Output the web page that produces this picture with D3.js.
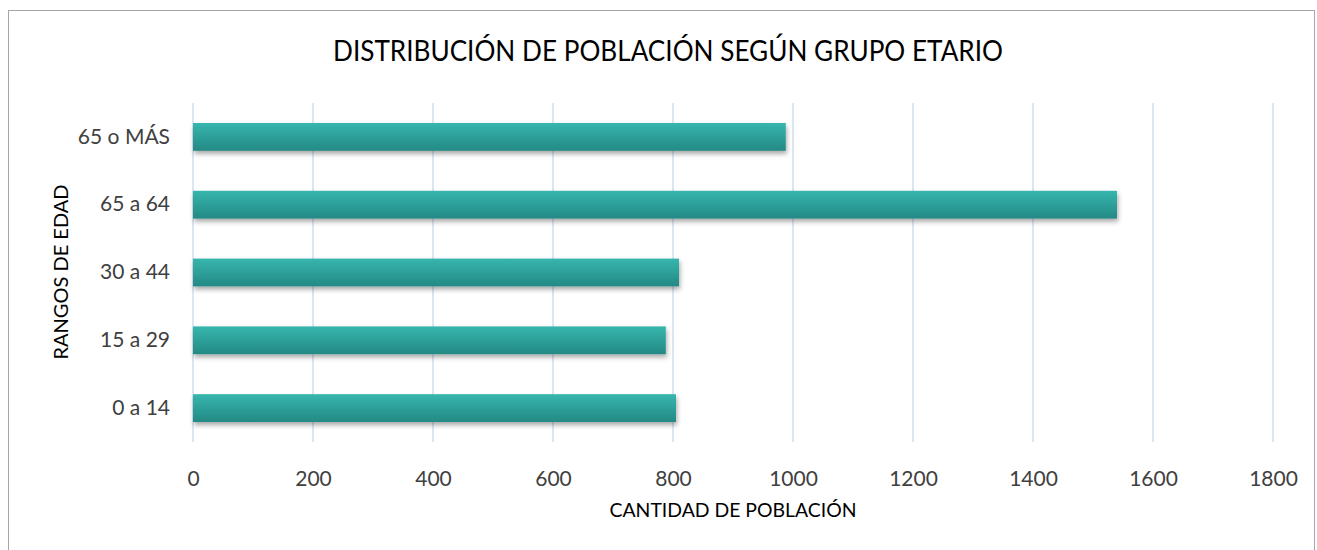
<!DOCTYPE html>
<html>
<head>
<meta charset="utf-8">
<script src="https://cdn.jsdelivr.net/npm/d3@7"></script>
<style>
  body { margin: 0; background: #fff; }
  text { font-family: Lato, "Open Sans", sans-serif; }
</style>
</head>
<body>
<svg id="chart" width="1317" height="550"></svg>
<script>
// data
var categories = ["65 o MÁS", "65 a 64", "30 a 44", "15 a 29", "0 a 14"];
var values = [988, 1540, 810, 788, 805];
var ticks = [0, 200, 400, 600, 800, 1000, 1200, 1400, 1600, 1800];

var svg = d3.select("#chart"),
  margin = { top: 103, right: 44, bottom: 108, left: 193 },
  width = 1273 - margin.left,
  height = 442 - margin.top;

// chart frame
svg.append("rect")
  .attr("x", 8.5).attr("y", 10.5)
  .attr("width", 1306).attr("height", 560)
  .attr("fill", "#fff")
  .attr("stroke", "#a6a6a6")
  .attr("stroke-width", 1);

var defs = svg.append("defs");
var grad = defs.append("linearGradient")
  .attr("id", "barGrad")
  .attr("x1", 0).attr("y1", 0).attr("x2", 0).attr("y2", 1);
grad.append("stop").attr("offset", "0%").attr("stop-color", "#36b6ae");
grad.append("stop").attr("offset", "100%").attr("stop-color", "#248984");

var shadow = defs.append("filter")
  .attr("id", "shadow")
  .attr("x", "-5%").attr("y", "-30%").attr("width", "110%").attr("height", "180%");
shadow.append("feDropShadow")
  .attr("dx", 1).attr("dy", 3)
  .attr("stdDeviation", 2.5)
  .attr("flood-color", "#000")
  .attr("flood-opacity", 0.35);

var g = svg.append("g").attr("transform", "translate(" + margin.left + "," + margin.top + ")");

var x = d3.scaleLinear().domain([0, 1800]).range([0, width]);
var y = d3.scaleBand().domain(categories).range([0, height]).paddingInner(0.59).paddingOuter(0.295);

// gridlines
g.append("g")
  .attr("class", "grid")
  .selectAll("line")
  .data(ticks)
  .enter()
  .append("line")
  .attr("x1", function(d) { return x(d); })
  .attr("x2", function(d) { return x(d); })
  .attr("y1", 0)
  .attr("y2", height)
  .attr("stroke", "#d3e0f1")
  .attr("stroke-width", 1.6);

// x axis labels
var xAxis = g.append("g")
  .attr("transform", "translate(0," + height + ")")
  .call(d3.axisBottom(x).tickValues(ticks).tickFormat(d3.format("d")).tickSize(0).tickPadding(29));
xAxis.select(".domain").remove();
xAxis.selectAll("text")
  .attr("font-size", 21)
  .attr("fill", "#404040")
  .style("font-family", "Lato, sans-serif");

// y axis labels
var yAxis = g.append("g")
  .call(d3.axisLeft(y).tickSize(0).tickPadding(23));
yAxis.select(".domain").remove();
yAxis.selectAll("text")
  .attr("font-size", 21)
  .attr("fill", "#404040")
  .style("font-family", "Lato, sans-serif");

// bars
g.append("g")
  .selectAll("rect")
  .data(values)
  .enter()
  .append("rect")
  .attr("x", x(0))
  .attr("y", function(d, i) { return y(categories[i]); })
  .attr("width", function(d) { return x(d) - x(0); })
  .attr("height", y.bandwidth())
  .attr("fill", "url(#barGrad)")
  .attr("filter", "url(#shadow)");

// titles
svg.append("text")
  .attr("x", 668).attr("y", 61)
  .attr("text-anchor", "middle")
  .attr("font-size", 28)
  .attr("fill", "#000")
  .attr("textLength", 670)
  .attr("lengthAdjust", "spacingAndGlyphs")
  .text("DISTRIBUCIÓN DE POBLACIÓN SEGÚN GRUPO ETARIO");

svg.append("text")
  .attr("x", 733).attr("y", 517)
  .attr("text-anchor", "middle")
  .attr("font-size", 20)
  .attr("fill", "#000")
  .attr("textLength", 247)
  .attr("lengthAdjust", "spacingAndGlyphs")
  .text("CANTIDAD DE POBLACIÓN");

svg.append("text")
  .attr("transform", "translate(68,272) rotate(-90)")
  .attr("text-anchor", "middle")
  .attr("font-size", 20)
  .attr("fill", "#000")
  .attr("textLength", 175)
  .attr("lengthAdjust", "spacingAndGlyphs")
  .text("RANGOS DE EDAD");
</script>
</body>
</html>
